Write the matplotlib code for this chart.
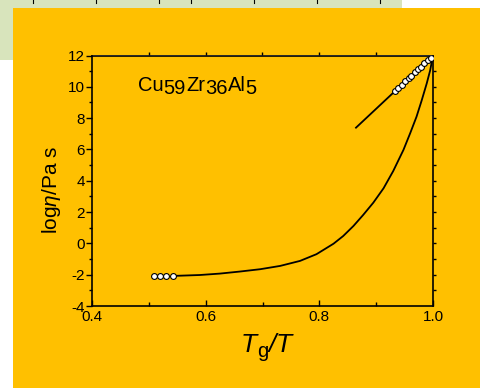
import matplotlib
matplotlib.use("Agg")
import matplotlib.pyplot as plt
from matplotlib.patches import Rectangle
from matplotlib.lines import Line2D
from matplotlib.ticker import MultipleLocator

plt.rcParams['font.family'] = ['Liberation Sans', 'DejaVu Sans']
plt.rcParams['mathtext.fontset'] = 'custom'
plt.rcParams['mathtext.rm'] = 'Liberation Sans'
plt.rcParams['mathtext.it'] = 'Liberation Sans:italic'

# ---- data ----
low_x = [0.509, 0.520, 0.531, 0.542]
low_y = [-2.10, -2.10, -2.10, -2.09]

curve_x = [0.542, 0.59, 0.625, 0.66, 0.696, 0.731, 0.766, 0.795, 0.825, 0.842,
           0.86, 0.877, 0.895, 0.913, 0.93, 0.948, 0.96, 0.971, 0.98, 0.989, 0.995, 1.0]
curve_y = [-2.08, -2.02, -1.93, -1.80, -1.65, -1.44, -1.12, -0.69, -0.02, 0.47,
           1.11, 1.81, 2.60, 3.52, 4.62, 5.97, 7.05, 8.09, 9.12, 10.22, 11.05, 12.0]

line_x = [0.8645, 1.0]
line_y = [7.39, 12.0]

high_x = [0.933, 0.939, 0.945, 0.951, 0.957, 0.962, 0.968, 0.974, 0.979, 0.985, 0.991, 0.996]
high_y = [9.74, 9.94, 10.14, 10.34, 10.54, 10.72, 10.92, 11.11, 11.28, 11.49, 11.69, 11.86]

x_ticks = [0.4, 0.6, 0.8, 1.0]
y_ticks = [-4, -2, 0, 2, 4, 6, 8, 10, 12]

W, H = 481, 390
ORANGE = '#FFC000'
GREEN = '#D8E4BC'

fig = plt.figure(figsize=(W / 100, H / 100), dpi=100)
fig.patch.set_facecolor('white')

def px_rect(x0, y0, x1, y1, color):
    fig.patches.append(Rectangle((x0 / W, 1 - y1 / H), (x1 - x0) / W, (y1 - y0) / H,
                                 transform=fig.transFigure, facecolor=color,
                                 edgecolor='none', zorder=-10))

px_rect(0, 0, 402, 8, GREEN)
px_rect(0, 0, 13, 60, GREEN)
px_rect(13, 8, 481, 388, ORANGE)
for tx in [33, 96, 159, 191, 254, 317, 380]:
    fig.lines.append(Line2D([tx / W, tx / W], [1, 1 - 3 / H], transform=fig.transFigure,
                            color='black', lw=0.8))

ax = fig.add_axes([92 / W, 1 - 306 / H, 341 / W, 250.5 / H])
ax.set_facecolor('none')

ax.plot(curve_x, curve_y, color='black', lw=1.3, zorder=2, solid_joinstyle='round')
ax.plot(line_x, line_y, color='black', lw=1.3, zorder=2)
ax.plot(low_x, low_y, 'o', ms=4.2, mfc='white', mec='black', mew=0.8, zorder=3)
ax.plot(high_x, high_y, 'o', ms=4.2, mfc='white', mec='black', mew=0.8, zorder=3)

ax.set_xlim(0.4, 1.0)
ax.set_ylim(-4, 12)
ax.set_xticks(x_ticks)
ax.set_xticklabels([f"{v:.1f}" for v in x_ticks])
ax.set_yticks(y_ticks)
ax.set_yticklabels([str(v) for v in y_ticks])
ax.xaxis.set_minor_locator(MultipleLocator(0.1))
ax.yaxis.set_minor_locator(MultipleLocator(1))

for s in ax.spines.values():
    s.set_linewidth(1.2)

ax.tick_params(axis='x', which='major', direction='in', length=4, width=1, labelsize=11, pad=3, top=False)
ax.tick_params(axis='x', which='minor', direction='in', length=3, width=1, top=False)
ax.tick_params(axis='y', which='major', direction='out', length=4, width=1, labelsize=11, pad=1, right=False)
ax.tick_params(axis='y', which='minor', direction='out', length=2, width=1, right=False)

secx = ax.secondary_xaxis('top')
secx.set_xticks([0.5, 0.6, 0.7, 0.8, 0.9])
secx.tick_params(direction='out', length=2, width=1, labeltop=False)
secx.spines['top'].set_visible(False)
secy = ax.secondary_yaxis('right')
secy.set_yticks(list(range(-3, 12)))
secy.tick_params(direction='out', length=2, width=1, labelright=False)
secy.spines['right'].set_visible(False)

ax.set_ylabel('log$\\it{η}$/Pa s', fontsize=15)
ax.yaxis.set_label_coords(-0.085, 0.463)

renderer = fig.canvas.get_renderer()

def pieces_text(x_px, y_px, pieces):
    cur = x_px
    for s, size, style, dy in pieces:
        t = fig.text(cur / W, 1 - (y_px + dy) / H, s, fontsize=size, style=style,
                     ha='left', va='baseline')
        bb = t.get_window_extent(renderer)
        cur += bb.width

pieces_text(138, 91, [('Cu', 14.5, 'normal', 0), ('59', 14.5, 'normal', 3),
                      ('Zr', 14.5, 'normal', 0), ('36', 14.5, 'normal', 3),
                      ('Al', 14.5, 'normal', 0), ('5', 14.5, 'normal', 3)])

pieces_text(241, 352, [('T', 19, 'italic', 0), ('g', 14.5, 'normal', 5),
                       ('/', 19, 'italic', 0), ('T', 19, 'italic', 0)])

fig.savefig('out.png', dpi=100, facecolor=fig.get_facecolor())
